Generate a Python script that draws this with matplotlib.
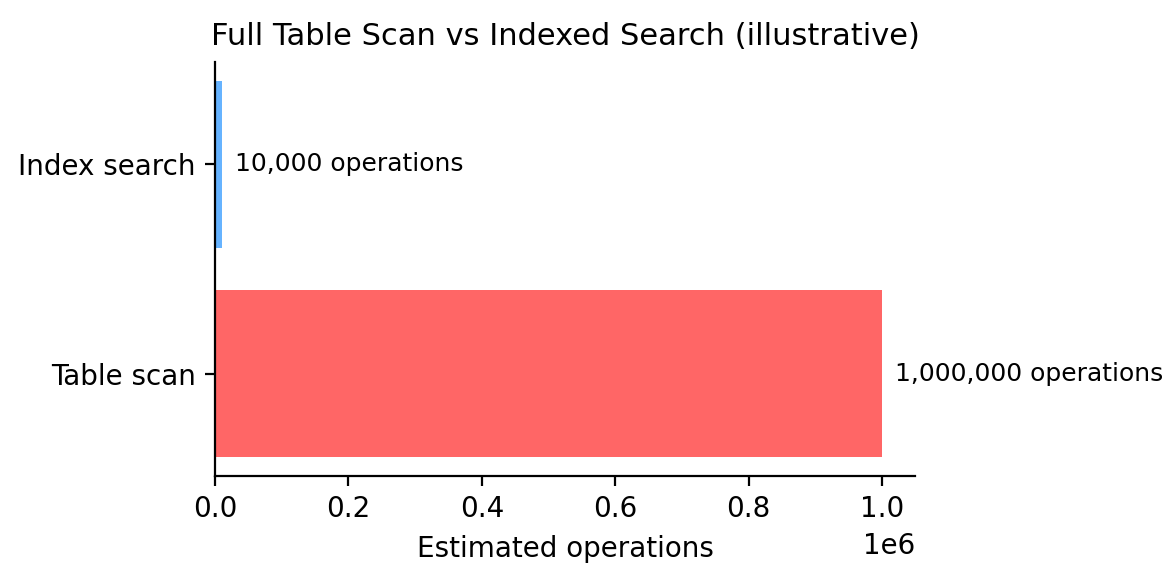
import matplotlib
matplotlib.use("Agg")
import matplotlib.pyplot as plt

methods = ["Table scan", "Index search"]
operations = [1_000_000, 10_000]
colors = ["#ff6666", "#66b3ff"]

fig = plt.figure(figsize=(5.88, 2.91), dpi=200)
ax = fig.add_axes([0.1828, 0.1821, 0.5955, 0.7114])
bars = ax.barh(methods, operations, color=colors)
offset = 0.02 * max(operations)
for y, v in enumerate(operations):
    ax.text(v + offset, y, f"{v:,} operations", va="center", ha="left", fontsize=9)
ax.set_title("Full Table Scan vs Indexed Search (illustrative)", fontsize=11)
ax.set_xlabel("Estimated operations", fontsize=10)
ax.spines["top"].set_visible(False)
ax.spines["right"].set_visible(False)
fig.savefig("out.png", dpi=200)
